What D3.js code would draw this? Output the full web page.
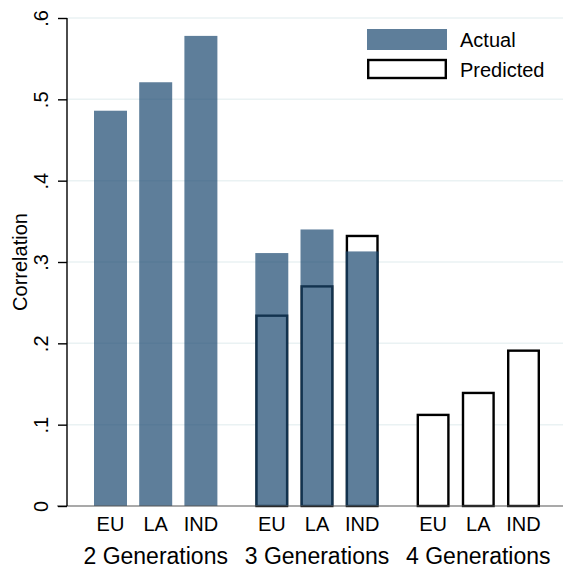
<!DOCTYPE html>
<html>
<head>
<meta charset="utf-8">
<script src="https://cdn.jsdelivr.net/npm/d3@7"></script>
<style>
  body { margin: 0; background: #fff; }
  svg { display: block; font-family: "Liberation Sans", Arial, Helvetica, sans-serif; }
</style>
</head>
<body>
<div id="chart"></div>
<script>
// Data
const groups = ['2 Generations', '3 Generations', '4 Generations'];
const regions = ['EU', 'LA', 'IND'];
const actual = [
    [0.486, 0.521, 0.578],
    [0.311, 0.340, 0.313],
    [null, null, null]
];
const predicted = [
    [null, null, null],
    [0.234, 0.270, 0.332],
    [0.112, 0.139, 0.191]
];
const yTicks = [0, 0.1, 0.2, 0.3, 0.4, 0.5, 0.6];
const yTickLabels = ['0', '.1', '.2', '.3', '.4', '.5', '.6'];

const width = 563, height = 569;
const axisX = 67;

const svg = d3.select('#chart').append('svg')
    .attr('width', width)
    .attr('height', height);

// Scales
const yScale = d3.scaleLinear()
    .domain([0, 0.6])
    .range([506, 18]);

const x0 = d3.scaleBand()
    .domain(groups)
    .range([94, 540])
    .paddingInner(0.235)
    .paddingOuter(0);

const x1 = d3.scaleBand()
    .domain(regions)
    .range([0, x0.bandwidth()])
    .paddingInner(0.27)
    .paddingOuter(0);

// Grid
svg.append('g')
    .selectAll('line')
    .data(yTicks.filter(d => d > 0))
    .join('line')
    .attr('x1', axisX)
    .attr('x2', width)
    .attr('y1', d => yScale(d))
    .attr('y2', d => yScale(d))
    .attr('stroke', '#eaf2f3')
    .attr('stroke-width', 1.5);

// Flatten rows
const rows = [];
groups.forEach((g, gi) => {
    regions.forEach((r, ri) => {
        rows.push({ group: g, region: r, actual: actual[gi][ri], predicted: predicted[gi][ri] });
    });
});

// Predicted bars (outline), drawn underneath the translucent actual bars
svg.append('g')
    .selectAll('rect')
    .data(rows.filter(d => d.predicted != null))
    .join('rect')
    .attr('x', d => x0(d.group) + x1(d.region) + 1.2)
    .attr('y', d => yScale(d.predicted))
    .attr('width', x1.bandwidth() - 2.4)
    .attr('height', d => yScale(0) - yScale(d.predicted))
    .attr('fill', '#fff')
    .attr('stroke', '#000')
    .attr('stroke-width', 2.4);

// Actual bars
svg.append('g')
    .selectAll('rect')
    .data(rows.filter(d => d.actual != null))
    .join('rect')
    .attr('x', d => x0(d.group) + x1(d.region))
    .attr('y', d => yScale(d.actual))
    .attr('width', x1.bandwidth())
    .attr('height', d => yScale(0) - yScale(d.actual))
    .attr('fill', 'rgb(26,71,111)')
    .attr('fill-opacity', 0.7);

// Baseline
svg.append('line')
    .attr('x1', axisX - 10)
    .attr('x2', width)
    .attr('y1', yScale(0))
    .attr('y2', yScale(0))
    .attr('stroke', '#555')
    .attr('stroke-width', 1.2);

// Y axis
const yAxis = svg.append('g')
    .attr('transform', `translate(${axisX},0)`)
    .call(d3.axisLeft(yScale)
        .tickValues(yTicks)
        .tickSize(9)
        .tickFormat((d, i) => yTickLabels[i]));

yAxis.select('.domain')
    .attr('d', `M0,${yScale(0.6)}V${yScale(0)}`)
    .attr('stroke', '#000')
    .attr('stroke-width', 1.4);

yAxis.selectAll('.tick line')
    .attr('stroke', '#000')
    .attr('stroke-width', 1.4);

yAxis.selectAll('.tick text')
    .attr('x', null)
    .attr('dy', null)
    .attr('transform', 'translate(-19,0) rotate(-90)')
    .attr('text-anchor', 'middle')
    .style('font-size', '20px')
    .style('font-family', '"Liberation Sans", Arial, sans-serif')
    .style('fill', '#000');

// Y label
svg.append('text')
    .attr('transform', `translate(27,${yScale(0.3)}) rotate(-90)`)
    .attr('text-anchor', 'middle')
    .style('font-size', '20px')
    .text('Correlation');

// Category labels
svg.append('g')
    .selectAll('text')
    .data(rows)
    .join('text')
    .attr('x', d => x0(d.group) + x1(d.region) + x1.bandwidth() / 2)
    .attr('y', 531)
    .attr('text-anchor', 'middle')
    .style('font-size', '20px')
    .text(d => d.region);

// Group labels
svg.append('g')
    .selectAll('text')
    .data(groups)
    .join('text')
    .attr('x', d => x0(d) + x0.bandwidth() / 2)
    .attr('y', 564)
    .attr('text-anchor', 'middle')
    .style('font-size', '23px')
    .text(d => d);

// Legend
const legend = svg.append('g')
    .attr('transform', 'translate(367,29)');

legend.append('rect')
    .attr('width', 80)
    .attr('height', 21)
    .attr('fill', 'rgb(26,71,111)')
    .attr('fill-opacity', 0.7);

legend.append('rect')
    .attr('x', 1.2)
    .attr('y', 31)
    .attr('width', 77.6)
    .attr('height', 18)
    .attr('fill', '#fff')
    .attr('stroke', '#000')
    .attr('stroke-width', 2.4);

legend.append('text')
    .attr('x', 93)
    .attr('y', 18)
    .style('font-size', '20px')
    .text('Actual');

legend.append('text')
    .attr('x', 93)
    .attr('y', 48)
    .style('font-size', '20px')
    .text('Predicted');
</script>
</body>
</html>
